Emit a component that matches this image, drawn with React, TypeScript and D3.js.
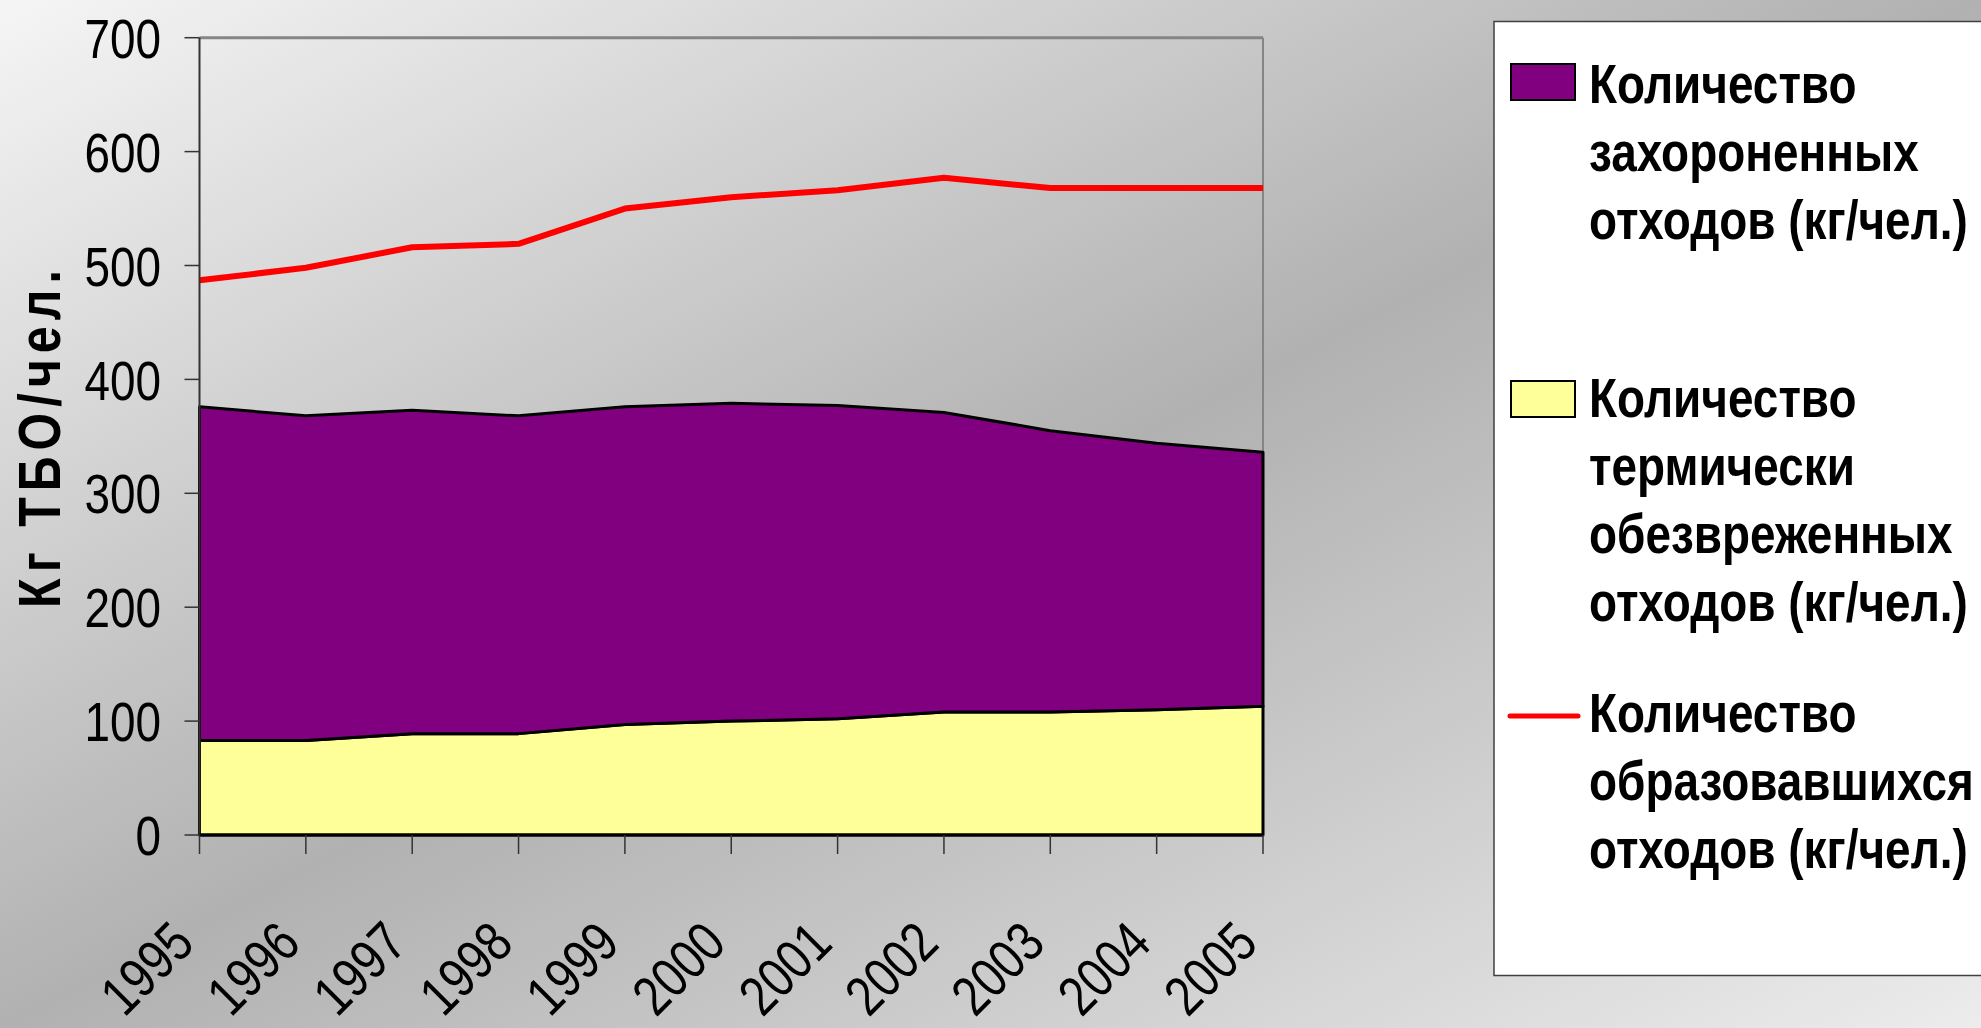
import { useEffect } from "react";
import * as d3 from "d3";

const years = ["1995", "1996", "1997", "1998", "1999", "2000", "2001", "2002", "2003", "2004", "2005"];
// kg per person
const incinerated = [83, 83, 89, 89, 97, 100, 102, 108, 108, 110, 113];
const landfilled = [293, 285, 284, 279, 279, 279, 275, 263, 247, 234, 223];
const generated = [487, 498, 516, 519, 550, 560, 566, 577, 568, 568, 568];
const yTicks = [0, 100, 200, 300, 400, 500, 600, 700];

const legendLandfilled = ["Количество", "захороненных", "отходов (кг/чел.)"];
const legendIncinerated = ["Количество", "термически", "обезвреженных", "отходов (кг/чел.)"];
const legendGenerated = ["Количество", "образовавшихся", "отходов (кг/чел.)"];
const yTitle = "Кг ТБО/чел.";

const W = 1981;
const H = 1028;
const plot = { left: 199.5, right: 1263, top: 37.7, bottom: 835 };
const font = "'Liberation Sans', Arial, sans-serif";
// the original uses a condensed face, squeeze Liberation Sans horizontally
const narrow = "scale(0.82,1)";

export default function App() {
  useEffect(() => {
    document.body.style.margin = "0";
  }, []);

  const x = d3.scalePoint<string>().domain(years).range([plot.left, plot.right]);
  const y = d3.scaleLinear().domain([0, 700]).range([plot.bottom, plot.top]);

  const rows = years.map((yr, i) => ({ year: yr, incinerated: incinerated[i], landfilled: landfilled[i] }));
  const stacked = d3.stack<any>().keys(["incinerated", "landfilled"])(rows);
  const area = d3
    .area<any>()
    .x((d) => x(d.data.year)!)
    .y0((d) => y(d[0]))
    .y1((d) => y(d[1]));
  const fills: Record<string, string> = { incinerated: "#FFFF99", landfilled: "#800080" };

  const line = d3
    .line<number>()
    .x((_, i) => x(years[i])!)
    .y((d) => y(d));

  const legendX = 1589;
  const lineH = 68;

  return (
    <svg width={W} height={H} style={{ display: "block" }} fontFamily={font}>
      <defs>
        <linearGradient id="bg" x1="0" y1="0" x2="1" y2="1">
          <stop offset="0" stopColor="#f5f5f5" />
          <stop offset="0.5" stopColor="#b1b1b1" />
          <stop offset="1" stopColor="#ececec" />
        </linearGradient>
      </defs>
      <rect x={0} y={0} width={W} height={H} fill="url(#bg)" />

      {/* plot frame */}
      <line x1={plot.left} x2={plot.right} y1={plot.top} y2={plot.top} stroke="#858585" strokeWidth={3} />
      <line x1={plot.right} x2={plot.right} y1={plot.top} y2={plot.bottom} stroke="#858585" strokeWidth={2} />

      {/* stacked areas */}
      {stacked.map((s) => (
        <path key={s.key} d={area(s) ?? ""} fill={fills[s.key]} stroke="#000" strokeWidth={3} strokeLinejoin="round" />
      ))}

      {/* generated line */}
      <path d={line(generated) ?? ""} fill="none" stroke="#FF0000" strokeWidth={6} strokeLinejoin="round" />

      {/* y axis */}
      <line x1={plot.left} x2={plot.left} y1={plot.top} y2={plot.bottom} stroke="#333" strokeWidth={2} />
      {yTicks.map((t) => (
        <g key={t}>
          <line x1={plot.left - 15} x2={plot.left} y1={y(t)} y2={y(t)} stroke="#333" strokeWidth={1.5} />
          <text
            transform={`translate(161,${y(t)}) ${narrow}`}
            textAnchor="end"
            dy="0.36em"
            fontSize={56}
            fill="#000"
          >
            {t}
          </text>
        </g>
      ))}

      {/* x axis */}
      <line x1={plot.left} x2={plot.right} y1={plot.bottom} y2={plot.bottom} stroke="#000" strokeWidth={3} />
      {years.map((yr) => (
        <g key={yr}>
          <line x1={x(yr)} x2={x(yr)} y1={plot.bottom} y2={plot.bottom + 19} stroke="#333" strokeWidth={1.5} />
          <text
            transform={`translate(${x(yr)! - 3},946) rotate(-45) ${narrow}`}
            textAnchor="end"
            fontSize={56}
            fill="#000"
          >
            {yr}
          </text>
        </g>
      ))}

      {/* y title */}
      <text
        transform={`translate(60,439) rotate(-90) ${narrow}`}
        textAnchor="middle"
        fontSize={59}
        fontWeight={700}
        textLength={412}
        lengthAdjust="spacing"
        fill="#000"
      >
        {yTitle}
      </text>

      {/* legend */}
      <rect x={1494} y={21.5} width={600} height={954} fill="#fff" stroke="#404040" strokeWidth={1.5} />
      <rect x={1511} y={64} width={64} height={36} fill={fills.landfilled} stroke="#000" strokeWidth={2} />
      <rect x={1511} y={381} width={64} height={36} fill={fills.incinerated} stroke="#000" strokeWidth={2} />
      <line x1={1510} x2={1578} y1={716} y2={716} stroke="#FF0000" strokeWidth={5} strokeLinecap="round" />
      {[
        { lines: legendLandfilled, y0: 103 },
        { lines: legendIncinerated, y0: 417 },
        { lines: legendGenerated, y0: 732 },
      ].map((item, k) =>
        item.lines.map((txt, i) => (
          <text
            key={`${k}-${i}`}
            transform={`translate(${legendX},${item.y0 + i * lineH}) ${narrow}`}
            fontSize={56}
            fontWeight={700}
            fill="#000"
          >
            {txt}
          </text>
        ))
      )}
    </svg>
  );
}
